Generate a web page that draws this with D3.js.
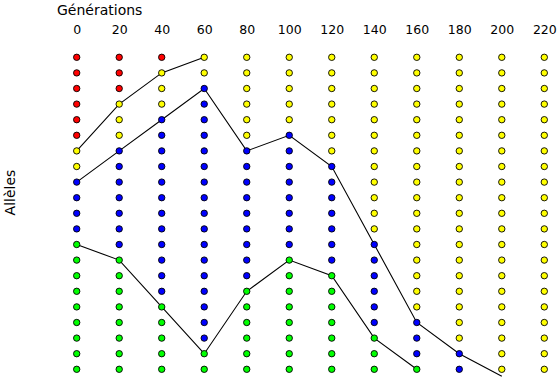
<!DOCTYPE html>
<html><head><meta charset="utf-8">
<script src="https://cdn.jsdelivr.net/npm/d3@7"></script>
<style>
html,body{margin:0;padding:0;background:#fff;}
text{font-family:"DejaVu Sans",sans-serif;fill:#000;}
</style></head>
<body>
<svg id="c" width="558" height="380"></svg>
<script>
// Generations (columns)
const generations = [0,20,40,60,80,100,120,140,160,180,200,220];
// Allele counts per generation, top to bottom order: red, yellow, blue, green
const redCounts    = [6,3,1,0,0,0,0,0,0,0,0,0];
const yellowCounts = [2,3,3,2,6,5,7,12,17,19,21,21];
const blueCounts   = [4,7,12,17,9,8,7,6,3,2,0,0];
const greenCounts  = [9,8,5,2,6,8,7,3,1,0,0,0];
const alleleTotal = 21;
// Boundary lines (row index)
const line1 = [6,3,1,0];                                  // gens 0..60
const line2 = [8,6,4,2,6,5,7,12,17,19,20.45];             // gens 0..200
const line3 = [12,13,16,19,15,13,14,18,20];               // gens 0..160
const colors = ["#ff0000","#ffff00","#0000ff","#00ff00"];

const svg = d3.select("#c");
const x = d3.scaleLinear().domain([0,220]).range([76.7,544.3]);
const y = d3.scaleLinear().domain([0,alleleTotal-1]).range([57.3,369.3]);

// dots
const dots = [];
generations.forEach((g,i)=>{
  const counts=[redCounts[i],yellowCounts[i],blueCounts[i],greenCounts[i]];
  let row=0;
  counts.forEach((c,k)=>{ for(let j=0;j<c;j++){ dots.push({g,row,k}); row++; } });
});

// lines
const lineGen = d3.line().x(d=>x(d[0])).y(d=>y(d[1]));
[line1,line2,line3].forEach(L=>{
  svg.append("path").datum(L.map((v,i)=>[generations[i],v]))
    .attr("d",lineGen).attr("fill","none").attr("stroke","#000").attr("stroke-width",1.1);
});

svg.append("g").selectAll("circle").data(dots).join("circle")
  .attr("cx",d=>x(d.g)).attr("cy",d=>y(d.row)).attr("r",3.2)
  .attr("fill",d=>colors[d.k]).attr("stroke","#000").attr("stroke-width",0.9);

// top axis
const axis = d3.axisTop(x).tickValues(generations).tickSize(0).tickPadding(0);
const ga = svg.append("g").attr("transform","translate(0,34)").call(axis);
ga.select(".domain").remove();
ga.selectAll("text").attr("font-family","DejaVu Sans, sans-serif").attr("font-size","12.5px").attr("dy",0).attr("fill","#000");

svg.append("text").attr("x",57).attr("y",14.5).attr("font-size","14px").text("Générations");
svg.append("text").attr("transform","translate(15,192.5) rotate(-90)").attr("text-anchor","middle")
  .attr("font-size","14px").text("Allèles");
</script>
</body></html>
